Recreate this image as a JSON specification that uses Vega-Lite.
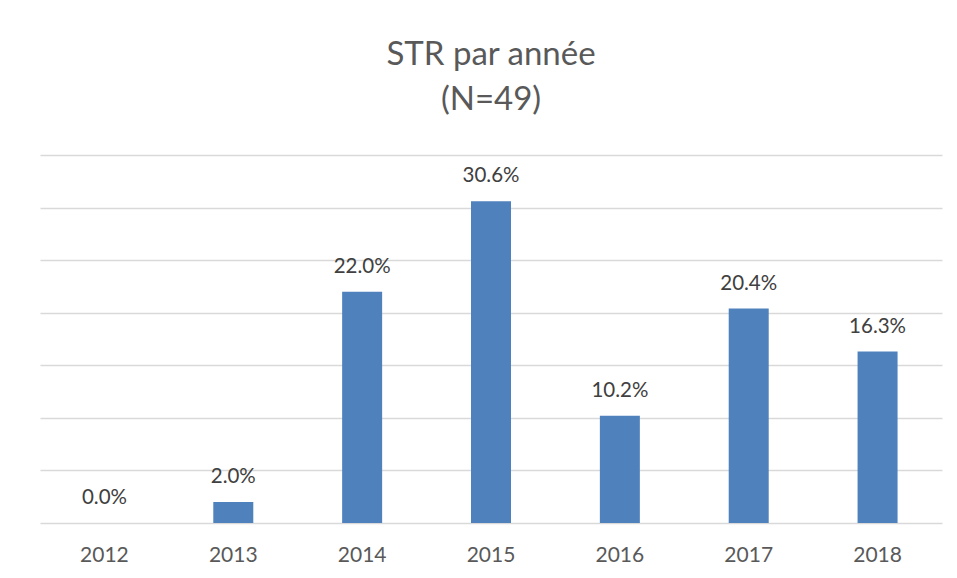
{
  "$schema": "https://vega.github.io/schema/vega-lite/v6.json",
  "autosize": "none",
  "width": 902,
  "height": 368,
  "padding": {"left": 40, "top": 155, "right": 15, "bottom": 55},
  "background": "white",
  "config": {"view": {"stroke": null}, "font": "Lato"},
  "title": {
    "text": ["STR par année", "(N=49)"],
    "fontSize": 33,
    "fontWeight": "normal",
    "color": "#595959",
    "lineHeight": 45,
    "anchor": "middle",
    "frame": "group",
    "offset": 38,
    "font": "Lato"
  },
  "data": {
    "values": [
      {"year": "2012", "pct": 0.0},
      {"year": "2013", "pct": 0.020},
      {"year": "2014", "pct": 0.220},
      {"year": "2015", "pct": 0.306},
      {"year": "2016", "pct": 0.102},
      {"year": "2017", "pct": 0.204},
      {"year": "2018", "pct": 0.163}
    ]
  },
  "encoding": {
    "x": {
      "field": "year",
      "type": "nominal",
      "sort": null,
      "axis": {
        "title": null,
        "labelAngle": 0,
        "ticks": false,
        "domain": false,
        "labelFontSize": 21,
        "labelColor": "#595959",
        "labelFont": "Lato",
        "labelBaseline": "middle",
        "labelPadding": 32
      }
    },
    "y": {
      "field": "pct",
      "type": "quantitative",
      "scale": {"domain": [0, 0.35], "nice": false},
      "axis": {
        "title": null,
        "labels": false,
        "ticks": false,
        "domain": false,
        "values": [0, 0.05, 0.1, 0.15, 0.2, 0.25, 0.3, 0.35],
        "gridColor": "#d9d9d9",
        "gridWidth": 1.5
      }
    }
  },
  "layer": [
    {"mark": {"type": "bar", "size": 40, "color": "#4f81bd"}},
    {
      "mark": {"type": "text", "baseline": "middle", "dy": -25, "fontSize": 20.5, "color": "#404040", "font": "Lato"},
      "encoding": {"text": {"field": "pct", "type": "quantitative", "format": ".1%"}}
    }
  ]
}
